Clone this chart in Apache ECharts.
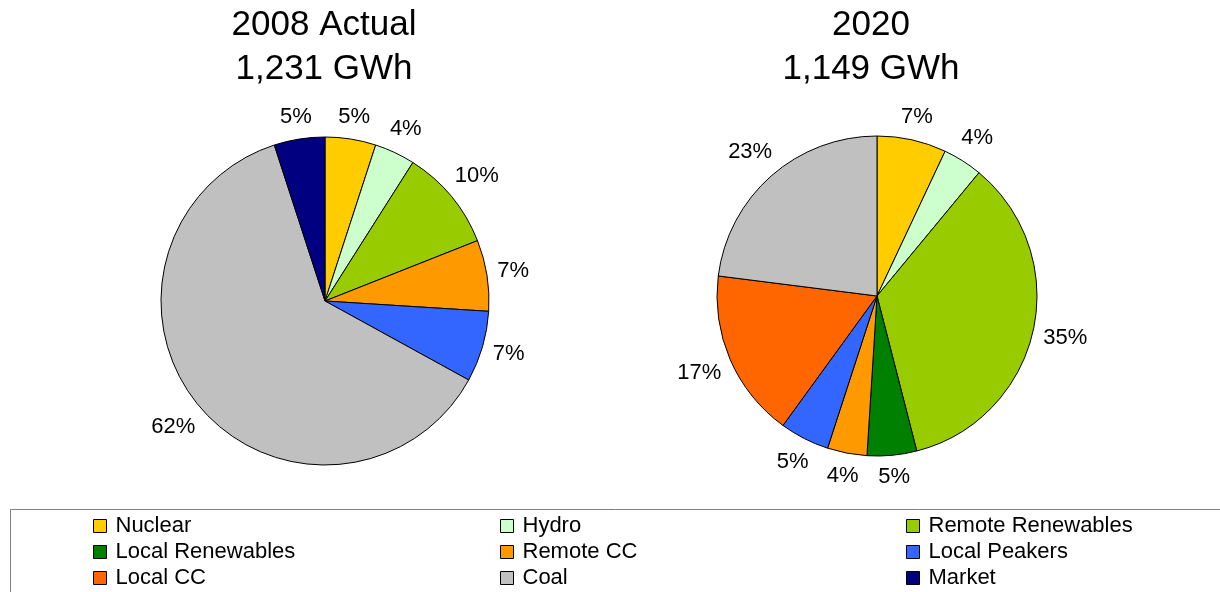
<!DOCTYPE html>
<html>
<head>
<meta charset="utf-8">
<script src="https://cdn.jsdelivr.net/npm/echarts@6/dist/echarts.min.js"></script>
<style>
  html, body { margin: 0; padding: 0; background: #fff; }
  #chart { width: 1220px; height: 592px; }
</style>
</head>
<body>
<div id="chart"></div>
<script>
// Generation mix by source, percent of annual energy
const categories = ['Nuclear', 'Hydro', 'Remote Renewables', 'Local Renewables', 'Remote CC',
                    'Local Peakers', 'Local CC', 'Coal', 'Market'];
const colors = ['#FFCC00', '#CCFFCC', '#99CC00', '#008000', '#FF9900',
                '#3366FF', '#FF6600', '#C0C0C0', '#000080'];
const share2008 = [5, 4, 10, 0, 7, 7, 0, 62, 5];
const share2020 = [7, 4, 35, 5, 4, 5, 17, 23, 0];
const titles = ['2008 Actual\n1,231 GWh', '2020\n1,149 GWh'];

const FONT = '"Liberation Sans", Arial, sans-serif';

const pies = [
  { values: share2008, title: titles[0], center: [325, 301], radius: 164, titleX: 324 },
  { values: share2020, title: titles[1], center: [877, 296], radius: 160, titleX: 871 }
];

// Slices with a zero share are left out so they draw no label
function sliceData(values) {
  return categories
    .map((name, i) => ({ name, value: values[i], itemStyle: { color: colors[i] } }))
    .filter(d => d.value > 0);
}

// Place each percentage just outside its slice, along the slice's mid-angle
function labelPlacer(p, data) {
  const total = data.reduce((s, d) => s + d.value, 0);
  const gap = 9;
  return function (params) {
    const idx = params.dataIndex;
    let before = 0;
    for (let k = 0; k < idx; k++) before += data[k].value;
    const mid = (before + data[idx].value / 2) / total * 2 * Math.PI;
    const dx = Math.sin(mid), dy = -Math.cos(mid);
    const w = params.labelRect.width, h = params.labelRect.height;
    const reach = p.radius + gap + Math.abs(dx) * w / 2 + Math.abs(dy) * h / 2;
    return {
      x: p.center[0] + dx * reach,
      y: p.center[1] + dy * reach,
      align: 'center',
      verticalAlign: 'middle'
    };
  };
}

const series = pies.map(p => {
  const data = sliceData(p.values);
  return {
    type: 'pie',
    center: p.center,
    radius: p.radius,
    startAngle: 90,
    clockwise: true,
    avoidLabelOverlap: false,
    animation: false,
    silent: true,
    itemStyle: { borderColor: '#000', borderWidth: 1 },
    label: {
      show: true,
      position: 'outside',
      formatter: '{c}%',
      fontFamily: FONT,
      fontSize: 22,
      lineHeight: 22,
      color: '#000'
    },
    labelLine: { show: false, length: 10, length2: 0 },
    labelLayout: labelPlacer(p, data),
    emphasis: { disabled: true },
    data
  };
});

// Legend laid out in three columns of three rows
const legendColumns = [[0, 3, 6], [1, 4, 7], [2, 5, 8]];
const legendLeft = [93, 500, 906];
const legend = legendColumns.map((col, c) => ({
  orient: 'vertical',
  left: legendLeft[c],
  top: 515,
  width: 300,
  height: 120,
  padding: 0,
  itemWidth: 13,
  itemHeight: 13,
  itemGap: 4,
  icon: 'rect',
  selectedMode: false,
  data: col.map(i => categories[i]),
  itemStyle: { borderColor: '#000', borderWidth: 1 },
  textStyle: { fontFamily: FONT, fontSize: 22, lineHeight: 20, color: '#000', padding: [0, 0, 0, 4] }
}));

const graphic = [
  {
    type: 'rect',
    silent: true,
    z: -1,
    shape: { x: 10.5, y: 509.5, width: 1240, height: 120 },
    style: { fill: 'none', stroke: '#808080', lineWidth: 1 }
  }
].concat(pies.map(p => ({
  type: 'text',
  silent: true,
  x: p.titleX,
  y: 47,
  style: {
    text: p.title,
    fill: '#000',
    fontFamily: FONT,
    fontSize: 35,
    lineHeight: 44,
    align: 'center',
    verticalAlign: 'middle'
  }
})));

const chart = echarts.init(document.getElementById('chart'), null, { renderer: 'canvas' });
chart.setOption({
  backgroundColor: '#fff',
  animation: false,
  legend,
  graphic,
  series
});
</script>
</body>
</html>
